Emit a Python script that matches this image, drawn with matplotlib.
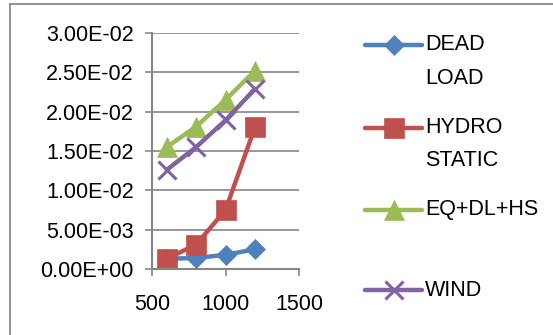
"""Deflection vs span chart, four load cases, Excel-style."""

from matplotlib import pyplot as plt
from matplotlib.lines import Line2D
from matplotlib.ticker import FormatStrFormatter

plt.rcParams['font.family'] = ['Liberation Sans', 'DejaVu Sans']

# Data.
SPANS = [600, 800, 1000, 1200]
DEAD_LOAD = [0.0013, 0.0014, 0.0018, 0.0025]
HYDRO_STATIC = [0.0013, 0.0031, 0.0075, 0.0180]
EQ_DL_HS = [0.0155, 0.0181, 0.0215, 0.0252]
WIND = [0.0126, 0.0155, 0.0189, 0.0229]

SERIES_LABELS = ["DEAD\nLOAD", "HYDRO\nSTATIC", "EQ+DL+HS", "WIND"]
X_TICKS = [500, 1000, 1500]
Y_TICKS = [0.0, 0.005, 0.010, 0.015, 0.020, 0.025, 0.030]

# Figure size in pixels (dpi 100).
W, H = 553, 335
GRID_GREY = "#868686"

# colour, marker, marker size (pt), marker edge width
STYLES = [
    ("#4F81BD", "D", 10, 0.5),
    ("#C0504D", "s", 14, 0.5),
    ("#9BBB59", "^", 14, 0.5),
    ("#8064A2", "x", 13, 2.2),
]
# legend handle row for each series, in pixels from the top
LEGEND_ROWS = [45, 128, 210, 290]
LINE_GAP = 33


def px(x, y):
    """Pixel position (from top-left) to figure fraction."""
    return x / W, 1 - y / H


fig = plt.figure(figsize=(W / 100, H / 100), dpi=100)
left, top = px(152, 33)
right, bottom = px(299, 269)
ax = fig.add_axes([left, bottom, right - left, top - bottom])

all_series = [DEAD_LOAD, HYDRO_STATIC, EQ_DL_HS, WIND]
for ys, (color, marker, size, mew) in zip(all_series, STYLES):
    ax.plot(SPANS, ys, color=color, linewidth=3.2, marker=marker,
            markersize=size, markerfacecolor=color, markeredgecolor=color,
            markeredgewidth=mew, solid_capstyle='round', clip_on=False)

ax.set_xlim(500, 1500)
ax.set_ylim(0, 0.03)
ax.set_xticks(X_TICKS)
ax.set_yticks(Y_TICKS)
ax.yaxis.set_major_formatter(FormatStrFormatter('%.2E'))
ax.grid(axis='y', color=GRID_GREY, linewidth=1.2)
ax.set_axisbelow(True)
for side in ('top', 'right'):
    ax.spines[side].set_visible(False)
for side in ('left', 'bottom'):
    ax.spines[side].set_color(GRID_GREY)
    ax.spines[side].set_linewidth(1.5)
ax.tick_params(axis='both', direction='out', length=5, width=1.2,
               color=GRID_GREY, labelsize=15.5, labelcolor='black')
ax.tick_params(axis='x', pad=13)
ax.tick_params(axis='y', pad=8)

# Legend drawn by hand so two-line labels keep the handle on the first line.
for label, row, (color, marker, size, mew) in zip(SERIES_LABELS, LEGEND_ROWS,
                                                  STYLES):
    x0, y0 = px(365, row)
    x1, _ = px(422, row)
    fig.add_artist(Line2D([x0, x1], [y0, y0], color=color, linewidth=3.2,
                          solid_capstyle='round'))
    fig.add_artist(Line2D([(x0 + x1) / 2], [y0], color=color, marker=marker,
                          markersize=size, markerfacecolor=color,
                          markeredgecolor=color, markeredgewidth=mew))
    for i, line in enumerate(label.split("\n")):
        tx, ty = px(425, row + i * LINE_GAP)
        fig.text(tx, ty, line, fontsize=15.5, va='center', ha='left')

# Chart-area border (runs off the right and bottom of the image).
bx, by = px(9.5, 3.5)
fig.add_artist(Line2D([bx, bx], [by, -0.1], color="#8a8a8a", linewidth=1.3))
fig.add_artist(Line2D([bx, 1.1], [by, by], color="#8a8a8a", linewidth=1.3))

fig.savefig("out.png", dpi=100)
